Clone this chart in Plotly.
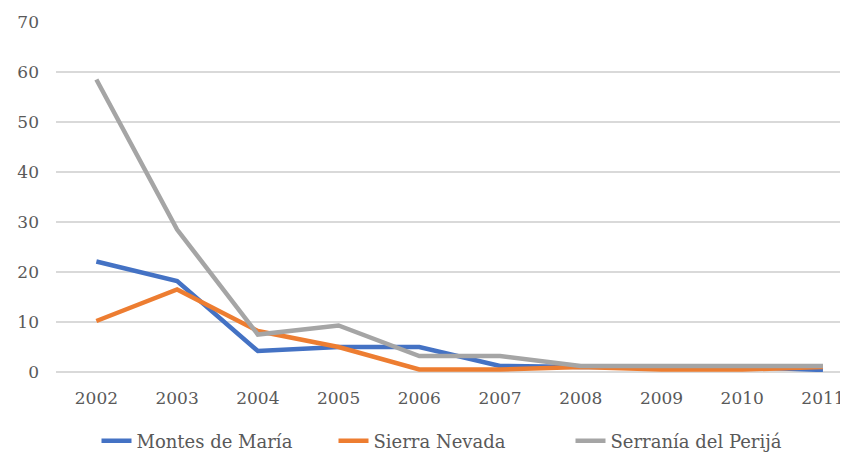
import plotly.graph_objects as go

years = ["2002", "2003", "2004", "2005", "2006", "2007", "2008", "2009", "2010", "2011"]
montes_de_maria = [22.1, 18.2, 4.2, 5.0, 5.0, 1.2, 1.0, 1.0, 1.0, 0.4]
sierra_nevada = [10.2, 16.5, 8.2, 5.0, 0.5, 0.5, 1.0, 0.5, 0.5, 1.0]
serrania_del_perija = [58.5, 28.5, 7.5, 9.3, 3.2, 3.2, 1.2, 1.2, 1.2, 1.2]
y_ticks = [0, 10, 20, 30, 40, 50, 60, 70]

series = [
    ("Montes de María", montes_de_maria, "#4472C4"),
    ("Sierra Nevada", sierra_nevada, "#ED7D31"),
    ("Serranía del Perijá", serrania_del_perija, "#A5A5A5"),
]

font_family = "DejaVu Serif, Georgia, serif"
text_color = "#595959"

fig = go.Figure()
for name, vals, color in series:
    fig.add_trace(go.Scatter(
        x=list(range(len(years))), y=vals, name=name, mode="lines",
        line=dict(color=color, width=4.5, shape="linear"),
    ))

# page body has an 8px default margin, so the figure is 840x448
fig.update_layout(
    width=840, height=448,
    margin=dict(l=48, r=0, t=14, b=84, autoexpand=False),
    paper_bgcolor="white", plot_bgcolor="white",
    font=dict(family=font_family, color=text_color, size=17),
    showlegend=True,
    legend=dict(orientation="h", x=0.5, xanchor="center", y=-0.197, yanchor="middle",
                font=dict(size=18, color=text_color), traceorder="normal",
                entrywidth=192, entrywidthmode="pixels"),
    xaxis=dict(
        range=[-0.5, 9.31], tickmode="array", tickvals=list(range(len(years))), ticktext=years,
        showgrid=False, zeroline=False, showline=False, ticks="", automargin=False,
        ticklabelstandoff=14, tickfont=dict(size=17),
    ),
    yaxis=dict(
        range=[0, 70], tickvals=y_ticks, showgrid=True, gridcolor="#D9D9D9", gridwidth=1.5,
        zeroline=True, zerolinecolor="#D9D9D9", zerolinewidth=1.5, showline=False, ticks="",
        automargin=False, ticklabelstandoff=16, tickfont=dict(size=17),
    ),
)

fig.write_html("out.html")
